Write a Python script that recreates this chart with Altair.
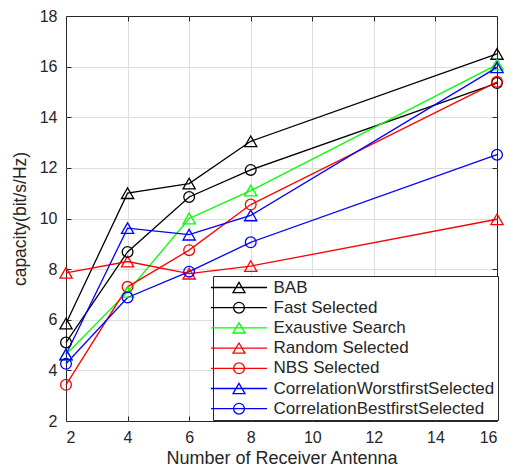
import altair as alt
import pandas as pd

# ---- data ----
n_antenna = [2, 4, 6, 8, 16]
series_names = [
    "BAB",
    "Fast Selected",
    "Exaustive Search",
    "Random Selected",
    "NBS Selected",
    "CorrelationWorstfirstSelected",
    "CorrelationBestfirstSelected",
]
bab = [5.85, 11.0, 11.38, 13.05, 16.5]
fast_selected = [5.1, 8.68, 10.85, 11.92, 15.35]
exhaustive = [4.63, 7.1, 10.0, 11.1, 16.08]
random_selected = [7.85, 8.3, 7.82, 8.12, 9.97]
nbs_selected = [3.43, 7.3, 8.75, 10.55, 15.4]
worst_first = [4.63, 9.62, 9.36, 10.12, 15.97]
best_first = [4.26, 6.88, 7.9, 9.06, 12.52]
series_values = [bab, fast_selected, exhaustive, random_selected,
                 nbs_selected, worst_first, best_first]
series_colors = ["#000000", "#000000", "#00ff00", "#ff0000",
                 "#ff0000", "#0000ff", "#0000ff"]
series_markers = ["tri", "circ", "tri", "tri", "circ", "tri", "circ"]

x_ticks = [2, 4, 6, 8, 10, 12, 14, 16]
y_ticks = [2, 4, 6, 8, 10, 12, 14, 16, 18]
x_inner = [4, 6, 8, 10, 12, 14]
y_inner = [4, 6, 8, 10, 12, 14, 16]

# legend symbols: line with marker (custom SVG paths)
tri_path = "M-4.67,0H4.67M0,-0.85L1.0,0.85L-1.0,0.85Z"
circ_path = "M-4.67,0H4.67M-0.9,0A0.9,0.9 0 1,0 0.9,0A0.9,0.9 0 1,0 -0.9,0"
legend_paths = [tri_path if m == "tri" else circ_path for m in series_markers]

rows = []
for name, vals, mk in zip(series_names, series_values, series_markers):
    for n, v in zip(n_antenna, vals):
        rows.append({"N": n, "capacity": v, "series": name, "marker": mk})
df = pd.DataFrame(rows)

TXT = "#262626"
xs = alt.Scale(domain=[2, 16], nice=False, zero=False)
ys = alt.Scale(domain=[2, 18], nice=False, zero=False)
cs = alt.Scale(domain=series_names, range=series_colors)
# same mapping, listed in reverse so it is kept apart from the legend's scale
ss = alt.Scale(domain=series_names[::-1], range=series_colors[::-1])

main_x_axis = alt.Axis(values=x_ticks, title="Number of Receiver Antenna",
                       grid=False, ticks=False, domain=False,
                       labelFontSize=16, labelPadding=8, labelColor=TXT,
                       titleFontSize=18, titlePadding=4, titleColor=TXT,
                       titleFontWeight="normal", format="d")
main_y_axis = alt.Axis(values=y_ticks, title="capacity(bit/s/Hz)",
                       grid=False, ticks=False, domain=False,
                       labelFontSize=16, labelPadding=9, labelColor=TXT,
                       titleFontSize=17.5, titlePadding=10, titleColor=TXT,
                       titleFontWeight="normal", format="d")

base = alt.Chart(df)

leg = alt.Legend(title=None, orient="none", legendX=147, legendY=260,
                 padding=3, fillColor="white", strokeColor=TXT,
                 symbolSize=144, symbolStrokeWidth=1.3, symbolOffset=14.5,
                 symbolOpacity=1,
                 labelOffset=26, labelFontSize=17, labelColor=TXT,
                 rowPadding=2.2, labelLimit=400, cornerRadius=0)

# invisible, tiny marks: only there to carry the legend (placed first)
legend_layer = base.mark_point(filled=False, size=1, strokeWidth=1.3,
                               opacity=0).encode(
    x=alt.X("N:Q", scale=xs, axis=None),
    y=alt.Y("capacity:Q", scale=ys, axis=None),
    color=alt.Color("series:N", scale=cs, legend=leg),
    shape=alt.Shape("series:N",
                    scale=alt.Scale(domain=series_names, range=legend_paths),
                    legend=leg),
)

lines = base.mark_line(strokeWidth=1.3).encode(
    x=alt.X("N:Q", scale=xs, axis=main_x_axis),
    y=alt.Y("capacity:Q", scale=ys, axis=main_y_axis),
    stroke=alt.Stroke("series:N", scale=ss, legend=None),
)

tri_pts = base.mark_point(shape="triangle-up", filled=False, size=150,
                          strokeWidth=1.3, opacity=1).encode(
    x=alt.X("N:Q", scale=xs, axis=None),
    y=alt.Y("capacity:Q", scale=ys, axis=None),
    stroke=alt.Stroke("series:N", scale=ss, legend=None),
).transform_filter("datum.marker == 'tri'")

circ_pts = base.mark_point(shape="circle", filled=False, size=115,
                           strokeWidth=1.3, opacity=1).encode(
    x=alt.X("N:Q", scale=xs, axis=None),
    y=alt.Y("capacity:Q", scale=ys, axis=None),
    stroke=alt.Stroke("series:N", scale=ss, legend=None),
).transform_filter("datum.marker == 'circ'")

# inward ticks + grid (MATLAB style), via offset axes
ticks_a = base.mark_point(opacity=0).encode(
    x=alt.X("N:Q", scale=xs,
            axis=alt.Axis(orient="bottom", offset=-5, tickSize=5, values=x_inner,
                          labels=False, domain=False, grid=True,
                          gridColor="#dedede", gridWidth=1,
                          tickColor=TXT, title=None)),
    y=alt.Y("capacity:Q", scale=ys,
            axis=alt.Axis(orient="left", offset=-5, tickSize=5, values=y_inner,
                          labels=False, domain=False, grid=True,
                          gridColor="#dedede", gridWidth=1,
                          tickColor=TXT, title=None)),
).transform_filter("false")

ticks_b = base.mark_point(opacity=0).encode(
    x=alt.X("N:Q", scale=xs,
            axis=alt.Axis(orient="top", offset=-5, tickSize=5, values=x_inner,
                          labels=False, domain=False, grid=False,
                          tickColor=TXT, title=None)),
    y=alt.Y("capacity:Q", scale=ys,
            axis=alt.Axis(orient="right", offset=-5, tickSize=5, values=y_inner,
                          labels=False, domain=False, grid=False,
                          tickColor=TXT, title=None)),
).transform_filter("false")

chart = alt.layer(legend_layer, ticks_a, ticks_b, lines, tri_pts, circ_pts).resolve_axis(
    x="independent", y="independent"
).properties(
    width=431, height=405,
    padding={"left": 3, "top": 0, "right": 0, "bottom": 0},
).configure(
    font="Liberation Sans",
).configure_view(
    stroke=TXT, strokeWidth=1,
)

chart.save("out.html", embed_options={"renderer": "svg", "actions": False})
